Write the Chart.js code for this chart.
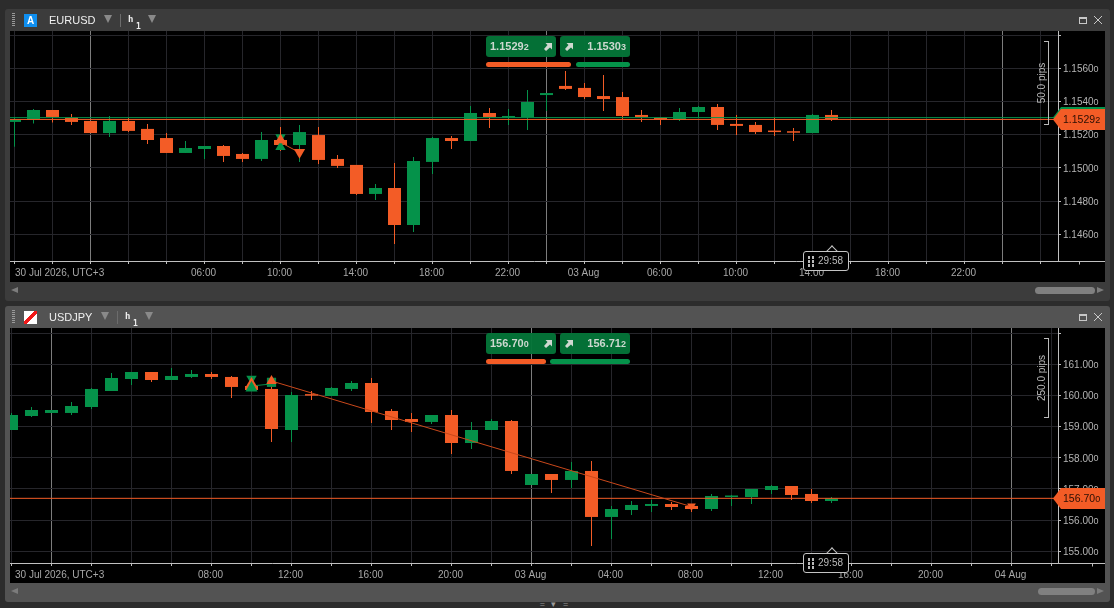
<!DOCTYPE html>
<html>
<head>
<meta charset="utf-8">
<title>EURUSD / USDJPY h1</title>
<script src="https://cdn.jsdelivr.net/npm/chart.js@4"></script>
<style>
html, body { margin: 0; height: 100%; background: #2c2c2c; overflow: hidden; }
body { font-family: "Liberation Sans", Arial, sans-serif; color: #bbb; }
#stage { position: absolute; left: 0; top: 0; width: 1114px; height: 608px; }
.abs, .panel, .panel canvas { position: absolute; }
.panel { left: 5px; width: 1105px; border-radius: 3px; }
.small { font-size: 9px; }
.sym { font-size: 11px; color: #f0f0f0; }
.tri { width: 0; height: 0; border-left: 4.5px solid transparent; border-right: 4.5px solid transparent; border-top: 8px solid #8a8a8a; }
.grip { width: 3px; height: 14px; background: repeating-linear-gradient(#9a9a9a 0 1px, transparent 1px 2px); }
.divider { width: 1px; height: 13px; background: #6c6c6c; }
.tf { font-family: "DejaVu Sans Mono", monospace; font-weight: bold; color: #eee; }
.btn { height: 21px; width: 70px; top: 0; background: rgba(4, 117, 56, 0.96); border-radius: 3px; font-size: 11px; font-weight: bold; color: #ccd8cf; line-height: 20px; box-sizing: border-box; }
.lvl { height: 5px; border-radius: 2.5px; }
.tag { left: 1053px; width: 52px; height: 21px; clip-path: polygon(0 50%, 8px 0, 100% 0, 100% 100%, 8px 100%); }
.tagtxt { left: 1063px; height: 21px; line-height: 21px; font-size: 10.5px; color: #2a0f04; }
.pips { width: 4px; border: 1px solid #bbb; border-left: 0; }
.pipstxt { width: 80px; height: 12px; line-height: 12px; font-size: 10px; text-align: center; color: #bbb; transform: rotate(-90deg); }
.count { left: 803px; width: 44px; height: 18px; border: 1px solid #c4c4c4; background: #000; border-radius: 3px; font-size: 10px; line-height: 18px; color: #bbb; }
.notch { left: 828px; width: 7px; height: 7px; background: #000; border-left: 1px solid #c4c4c4; border-top: 1px solid #c4c4c4; transform: rotate(45deg); }
.sb { width: 60px; height: 7px; background: #808080; border-radius: 3.5px; }
.arrL { border-top: 3.5px solid transparent; border-bottom: 3.5px solid transparent; border-right: 7px solid #7c7c7c; width: 0; height: 0; }
.arrR { border-top: 3.5px solid transparent; border-bottom: 3.5px solid transparent; border-left: 7px solid #7c7c7c; width: 0; height: 0; }
.firstlabel { left: 15px; font-size: 10px; color: #a8a8a8; height: 12px; line-height: 12px; white-space: nowrap; }
</style>
</head>
<body>
<div id="stage"></div>
<script>
// EURUSD h1
const eurOpen = [1.15277,1.15292,1.15349,1.15303,1.15283,1.15210,1.15283,1.15235,1.15180,1.15090,1.15114,1.15132,1.15084,1.15054,1.15168,1.15138,1.15198,1.15054,1.15018,1.14843,1.14879,1.14656,1.15036,1.15180,1.15162,1.15331,1.15303,1.15305,1.15439,1.15494,1.15482,1.15433,1.15427,1.15319,1.15303,1.15292,1.15337,1.15367,1.15265,1.15259,1.15223,1.15216,1.15210,1.15319];
const eurHigh = [1.15303,1.15355,1.15349,1.15325,1.15283,1.15313,1.15301,1.15265,1.15210,1.15162,1.15132,1.15138,1.15090,1.15216,1.15247,1.15259,1.15247,1.15078,1.15018,1.14903,1.15030,1.15066,1.15186,1.15192,1.15373,1.15361,1.15355,1.15469,1.15451,1.15584,1.15512,1.15560,1.15457,1.15349,1.15307,1.15361,1.15373,1.15385,1.15319,1.15277,1.15301,1.15241,1.15325,1.15349];
const eurLow = [1.15128,1.15267,1.15273,1.15259,1.15210,1.15186,1.15216,1.15144,1.15090,1.15090,1.15054,1.15036,1.15036,1.15042,1.15102,1.15036,1.15024,1.15000,1.14837,1.14807,1.14542,1.14614,1.14963,1.15114,1.15162,1.15241,1.15259,1.15229,1.15343,1.15469,1.15415,1.15343,1.15295,1.15277,1.15259,1.15283,1.15305,1.15229,1.15198,1.15204,1.15192,1.15162,1.15210,1.15283];
const eurClose = [1.15291,1.15349,1.15307,1.15277,1.15210,1.15283,1.15223,1.15168,1.15090,1.15120,1.15132,1.15072,1.15054,1.15168,1.15138,1.15216,1.15048,1.15012,1.14843,1.14879,1.14656,1.15042,1.15180,1.15162,1.15331,1.15307,1.15313,1.15397,1.15451,1.15476,1.15427,1.15415,1.15313,1.15307,1.15292,1.15337,1.15367,1.15259,1.15253,1.15216,1.15216,1.15212,1.15319,1.15292];
const eurBid = 1.15292;
const eurAsk = 1.15303;
const eurPriceTicks = [1.158,1.156,1.154,1.152,1.150,1.148,1.146];
const eurGridHours = [0,2,4,6,8,10,12,14,16,18,20,22,24,26,28,30,32,34,36,38,40,42,44,46,48,50,52,54];
const eurDayBreaks = [4,28,52];
const eurLabelHours = [10,14,18,22,26,30,34,38,42,46,50];
const eurHourLabels = ['06:00','10:00','14:00','18:00','22:00','03 Aug','06:00','10:00','14:00','18:00','22:00'];
const eurFillLine = [{x:14,y:1.15154},{x:15,y:1.15092}];
const eurOrangeUp = [{x:14,y:1.15168}];
const eurOrangeDown = [{x:15,y:1.15094}];
const eurGreenUp = [{x:14,y:1.15126}];
const eurGreenDown = [{x:14,y:1.15184}];

// USDJPY h1
const jpyOpen = [158.893,159.342,159.439,159.439,159.631,160.144,160.529,160.754,160.497,160.594,160.690,160.594,160.305,160.209,158.893,160.016,159.984,160.209,160.401,159.503,159.246,159.150,159.374,158.476,158.893,159.182,157.128,157.481,157.289,157.578,156.102,156.326,156.455,156.519,156.455,156.358,156.743,156.743,156.968,157.096,156.840,156.615];
const jpyHigh = [159.439,159.631,159.535,159.791,160.241,160.722,160.754,160.754,160.882,160.818,160.754,160.626,160.497,160.305,160.112,160.144,160.273,160.465,160.561,159.567,159.439,159.374,159.535,159.150,159.246,159.214,157.481,157.481,157.866,157.898,156.455,156.615,156.647,156.583,156.519,156.840,156.807,157.000,157.128,157.096,157.000,156.743];
const jpyLow = [158.893,159.310,159.439,159.374,159.567,160.144,160.337,160.433,160.497,160.561,160.529,159.920,160.176,158.508,158.508,159.856,159.984,160.144,159.118,158.893,158.829,159.086,158.123,158.283,158.893,157.481,157.128,156.872,157.032,155.171,155.396,156.166,156.262,156.326,156.262,156.294,156.455,156.519,156.840,156.647,156.551,156.551];
const jpyClose = [159.374,159.535,159.535,159.663,160.209,160.561,160.754,160.497,160.626,160.690,160.594,160.273,160.176,158.925,160.016,159.995,160.241,160.401,159.471,159.214,159.150,159.374,158.476,158.893,159.182,157.578,157.481,157.289,157.578,156.102,156.358,156.487,156.519,156.422,156.358,156.775,156.775,157.000,157.096,156.807,156.615,156.700];
const jpyBid = 156.700;
const jpyAsk = 156.712;
const jpyPriceTicks = [162,161,160,159,158,157,156,155];
const jpyGridHours = [0,2,4,6,8,10,12,14,16,18,20,22,24,26,28,30,32,34,36,38,40,42,44,46,48,50,52];
const jpyDayBreaks = [2,26,50];
const jpyLabelHours = [10,14,18,22,26,30,34,38,42,46,50];
const jpyHourLabels = ['08:00','12:00','16:00','20:00','03 Aug','04:00','08:00','12:00','16:00','20:00','04 Aug'];
const jpyTrendLine = [{x:13,y:160.465},{x:34,y:156.433}];
const jpyGreenLine = [{x:12,y:160.305},{x:13,y:160.369}];
const jpyOrangeUp = [{x:12,y:160.401},{x:13,y:160.465}];
const jpyOrangeDown = [{x:34,y:156.455}];
const jpyGreenUp = [{x:12,y:160.241}];
const jpyGreenDown = [{x:12,y:160.540}];
const jpyGreenBox = [{x:13,y:160.422}];

const ORANGE = '#f35c26';
const GREEN = '#05924a';

function priceHtml(value, digits) {
    const s = value.toFixed(digits);
    return `${s.slice(0, -1)}<span class="small">${s.slice(-1)}</span>`;
}

const ARROW = '<svg width="8" height="8" viewBox="0 0 8 8" style="position:absolute;top:7px;left:LEFTpx"><path d="M1.5 0H8V6.5L6 4.5 2 8 0 6 3.5 2Z" fill="#cfd8d0"/></svg>';
const GRIP = '<svg width="6" height="11" style="position:absolute;left:4px;top:4px"><g fill="#bbb"><rect width="2" height="3"/><rect x="4" width="2" height="3"/><rect y="4" width="2" height="3"/><rect x="4" y="4" width="2" height="3"/><rect y="8" width="2" height="3"/><rect x="4" y="8" width="2" height="3"/></g></svg>';

// panel chrome, everything in page coordinates
function addChrome(p) {
    const stage = document.getElementById('stage');
    const cy = p.headerY;
    const html = `
    <div class="panel" style="top:${p.top}px;height:${p.height}px;background:${p.bg}"></div>
    <div class="abs" id="${p.id}" style="left:10px;top:${p.plotTop}px;width:1095px;height:${p.plotHeight}px;background:#000"><canvas></canvas></div>
    <div class="abs grip" style="left:12px;top:${cy - 7}px"></div>
    <div class="abs" style="left:24px;top:${cy - 6.5}px;width:13px;height:13px;${p.icon}">${p.iconText}</div>
    <div class="abs sym" style="left:49px;top:${cy - 7}px;line-height:14px">${p.symbol}</div>
    <div class="abs tri" style="left:${p.tri1}px;top:${cy - 5}px"></div>
    <div class="abs divider" style="left:${p.div}px;top:${cy - 6.5}px"></div>
    <div class="abs tf" style="left:${p.div + 8}px;top:${cy - 7}px;font-size:9px;line-height:12px">h</div>
    <div class="abs tf" style="left:${p.div + 16}px;top:${cy + 2}px;font-size:8px;line-height:10px">1</div>
    <div class="abs tri" style="left:${p.tri2}px;top:${cy - 5}px"></div>
    <div class="abs" style="left:1079px;top:${cy - 3.5}px;width:6px;height:4px;border:1px solid #c8c8c8;border-top-width:2px"></div>
    <svg class="abs" style="left:1094px;top:${cy - 4}px" width="8" height="8"><path d="M0 0L8 8M8 0L0 8" stroke="#c8c8c8"/></svg>

    <div class="abs btn" style="left:486px;top:${p.plotTop + 5}px;padding-left:4px">${priceHtml(p.bid, p.digits)}${ARROW.replace('LEFT', '58')}</div>
    <div class="abs btn" style="left:560px;top:${p.plotTop + 5}px;padding-right:4px;text-align:right">${ARROW.replace('LEFT', '5')}${priceHtml(p.ask, p.digits)}</div>
    <div class="abs lvl" style="left:486px;top:${p.plotTop + 31}px;width:${p.bidBar}px;background:${ORANGE}"></div>
    <div class="abs lvl" style="left:${630 - p.askBar}px;top:${p.plotTop + 31}px;width:${p.askBar}px;background:${GREEN}"></div>

    <div class="abs pips" style="left:1044px;top:${p.pipsTop}px;height:${p.pipsH}px"></div>
    <div class="abs pipstxt" style="left:${1041.5 - 40}px;top:${p.pipsTop + p.pipsH / 2 - 5}px">${p.pipsText}</div>

    ${p.askTag ? `<div class="abs tag" style="top:${p.tagTop - 2}px;background:${GREEN}"></div>` : ''}
    <div class="abs tag" style="top:${p.tagTop}px;background:${ORANGE}"></div>
    <div class="abs tagtxt" style="top:${p.tagTop}px">${priceHtml(p.bid, p.digits)}</div>

    <div class="abs firstlabel" style="top:${p.axisY + 5}px">30 Jul 2026, UTC+3</div>
    <div class="abs notch" style="top:${p.axisY - 15}px"></div>
    <div class="abs count" style="top:${p.axisY - 11}px"><span style="position:absolute;left:14px;top:0">29:58</span>${GRIP}</div>

    <div class="abs arrL" style="left:11px;top:${p.top + p.height - 14}px"></div>
    <div class="abs sb" style="left:${p.thumbLeft}px;width:${1095 - p.thumbLeft}px;top:${p.top + p.height - 14}px"></div>
    <div class="abs arrR" style="left:1097px;top:${p.top + p.height - 14}px"></div>`;
    stage.insertAdjacentHTML('beforeend', html);
}

// extends the time axis under the price scale and prints the small last digit of each price
const scaleExtras = {
    id: 'scaleExtras',
    afterDraw(chart, args, opts) {
        const { ctx, chartArea, scales } = chart;
        ctx.save();
        ctx.strokeStyle = '#c0c0c0';
        ctx.lineWidth = 1;
        const y = Math.round(chartArea.bottom) + 0.5;
        ctx.beginPath();
        ctx.moveTo(chartArea.right, y);
        ctx.lineTo(chart.width, y);
        const extra = Math.round(scales.x.getPixelForValue(opts.lastHour)) + 0.5;
        ctx.moveTo(extra, y);
        ctx.lineTo(extra, y + 3);
        ctx.stroke();
        ctx.fillStyle = '#b4b4b4';
        ctx.textBaseline = 'middle';
        opts.ticks.slice(1).forEach(t => {
            const main = t.toFixed(opts.digits - 1);
            const py = scales.y.getPixelForValue(t);
            ctx.font = '10px "Liberation Sans"';
            const w = ctx.measureText(main).width;
            const left = chartArea.right + 5;
            ctx.font = '9px "Liberation Sans"';
            ctx.fillText('0', left + w, py + 1);
        });
        ctx.restore();
    }
};

function marker(data, color, style, rotation, radius, order) {
    return {
        type: 'line', showLine: false, data, order,
        pointStyle: style, pointRotation: rotation, pointRadius: radius,
        pointBackgroundColor: color, pointBorderWidth: 0, pointHoverRadius: radius
    };
}

function line(data, color, order, width = 1) {
    return { type: 'line', data, borderColor: color, borderWidth: width, pointRadius: 0, order };
}

function noScalePadding(s) {
    s.paddingLeft = 0;
    s.paddingRight = 0;
    s.paddingTop = 0;
    s.paddingBottom = 0;
}

function createPanelChart(p) {
    const box = document.getElementById(p.id);
    const canvas = box.querySelector('canvas');
    canvas.width = 1095;
    canvas.height = p.plotHeight;
    canvas.style.width = '1095px';
    canvas.style.height = p.plotHeight + 'px';

    const colors = p.close.map((c, i) => c >= p.open[i] ? GREEN : ORANGE);
    const hours = p.close.map((c, i) => i);
    const bars = { type: 'bar', grouped: false, barPercentage: 1, categoryPercentage: 1, inflateAmount: 0, borderWidth: 0, backgroundColor: colors };

    const datasets = [
        { ...bars, data: hours.map(i => ({ x: i, y: [p.low[i], p.high[i]] })), barThickness: 1, maxBarThickness: 1, order: 11 },
        { ...bars, data: hours.map(i => ({ x: i, y: [p.open[i], p.close[i]] })), barThickness: 13, maxBarThickness: 13, minBarLength: 1.5, order: 10 },
        line([{ x: p.xMin, y: p.bid }, { x: p.xMax, y: p.bid }], ORANGE, 4)
    ];
    if (p.askTag) {
        datasets.push(line([{ x: p.xMin, y: p.ask }, { x: p.xMax, y: p.ask }], GREEN, 5));
    }
    p.extraSets.forEach(d => datasets.push(d));

    return new Chart(canvas, {
        type: 'bar',
        data: { datasets },
        plugins: [scaleExtras],
        options: {
            responsive: false,
            animation: false,
            events: [],
            layout: { autoPadding: false, padding: 0 },
            plugins: {
                legend: { display: false },
                tooltip: { enabled: false },
                scaleExtras: { ticks: p.priceTicks, digits: p.digits, lastHour: p.lastHour }
            },
            scales: {
                x: {
                    type: 'linear', min: p.xMin, max: p.xMax, offset: false, bounds: 'data',
                    afterBuildTicks: s => { s.ticks = p.gridHours.map(value => ({ value })); },
                    afterFit: s => { s.height = p.plotHeight - p.plotBottom; noScalePadding(s); },
                    grid: {
                        offset: false,
                        color: c => p.dayBreaks.includes(c.tick && c.tick.value) ? '#7c7c7c' : '#26262b',
                        tickColor: '#c0c0c0', tickLength: 3
                    },
                    border: { color: '#c0c0c0' },
                    ticks: {
                        autoSkip: false, maxRotation: 0, padding: 3, labelOffset: -1, color: '#a8a8a8',
                        font: { family: '"Liberation Sans"', size: 10 },
                        callback: v => {
                            const k = p.labelHours.indexOf(v);
                            return k >= 0 ? p.hourLabels[k] : '';
                        }
                    }
                },
                y: {
                    position: 'right', min: p.yMin, max: p.yMax, bounds: 'data',
                    afterBuildTicks: s => { s.ticks = p.priceTicks.map(value => ({ value })); },
                    afterFit: s => { s.width = 47; noScalePadding(s); },
                    grid: { color: '#26262b', tickColor: '#c0c0c0', tickLength: 3 },
                    border: { color: '#c0c0c0' },
                    ticks: {
                        padding: 2, labelOffset: 1, crossAlign: 'near', color: '#b4b4b4',
                        font: { family: '"Liberation Sans"', size: 10 },
                        // the topmost grid line has no price printed beside it
                        callback: v => v === p.priceTicks[0] ? '' : v.toFixed(p.digits - 1)
                    }
                }
            }
        }
    });
}

const eurPanel = {
    id: 'eurusd', symbol: 'EURUSD', top: 9, height: 292, bg: '#3c3c3c', headerY: 20,
    plotTop: 31, plotHeight: 251, plotBottom: 230, axisY: 262,
    icon: 'background:#0f8ff0;color:#fff;font:bold 10px/13px \'Liberation Sans\';text-align:center', iconText: 'A',
    tri1: 103.5, div: 120, tri2: 147.5,
    bid: eurBid, ask: eurAsk, digits: 5, bidBar: 85, askBar: 54, askTag: true,
    pipsTop: 41, pipsH: 82, pipsText: '50.0 pips', tagTop: 109, thumbLeft: 1035,
    open: eurOpen, high: eurHigh, low: eurLow, close: eurClose,
    priceTicks: eurPriceTicks, gridHours: eurGridHours, dayBreaks: eurDayBreaks,
    labelHours: eurLabelHours, hourLabels: eurHourLabels, lastHour: 56,
    xMin: -4.5 / 19, xMax: 1043.5 / 19, yMin: 1.14439, yMax: 1.15825,
    extraSets: [
        marker(eurOrangeUp, ORANGE, 'triangle', 0, 6.5, 1),
        marker(eurOrangeDown, ORANGE, 'triangle', 180, 6.5, 1),
        marker(eurGreenUp, GREEN, 'triangle', 0, 6, 2),
        marker(eurGreenDown, GREEN, 'triangle', 180, 6, 2),
        line(eurFillLine, '#d2501f', 3)
    ]
};

const jpyPanel = {
    id: 'usdjpy', symbol: 'USDJPY', top: 306, height: 296, bg: '#535353', headerY: 317,
    plotTop: 328, plotHeight: 255, plotBottom: 235, axisY: 564,
    icon: 'background:linear-gradient(135deg,#fff 0 42%,#f01818 42% 58%,#fff 58%)', iconText: '',
    tri1: 100.5, div: 117, tri2: 144.5,
    bid: jpyBid, ask: jpyAsk, digits: 3, bidBar: 60, askBar: 80, askTag: false,
    pipsTop: 338, pipsH: 78, pipsText: '250.0 pips', tagTop: 488, thumbLeft: 1038,
    open: jpyOpen, high: jpyHigh, low: jpyLow, close: jpyClose,
    priceTicks: jpyPriceTicks, gridHours: jpyGridHours, dayBreaks: jpyDayBreaks,
    labelHours: jpyLabelHours, hourLabels: jpyHourLabels, lastHour: 54,
    xMin: -1.5 / 20, xMax: 1046.5 / 20, yMin: 154.625, yMax: 162.165,
    extraSets: [
        marker(jpyOrangeUp, ORANGE, 'triangle', 0, 6, 1),
        marker(jpyOrangeDown, ORANGE, 'triangle', 180, 5, 1),
        marker(jpyGreenUp, GREEN, 'triangle', 0, 7, 0),
        marker(jpyGreenDown, GREEN, 'triangle', 180, 6, 2),
        line(jpyTrendLine, '#c9481b', 3),
        line(jpyGreenLine, GREEN, 3),
        marker(jpyGreenBox, '#0a8a48', 'rect', 0, 6.5, 6)
    ]
};

addChrome(eurPanel);
addChrome(jpyPanel);
createPanelChart(eurPanel);
createPanelChart(jpyPanel);

document.getElementById('stage').insertAdjacentHTML('beforeend',
    '<div class="abs" style="left:525px;top:601px;width:60px;height:7px;line-height:7px;font-size:9px;letter-spacing:2px;color:#9a9a9a;text-align:center;white-space:nowrap">= ▾ =</div>');
</script>
</body>
</html>
